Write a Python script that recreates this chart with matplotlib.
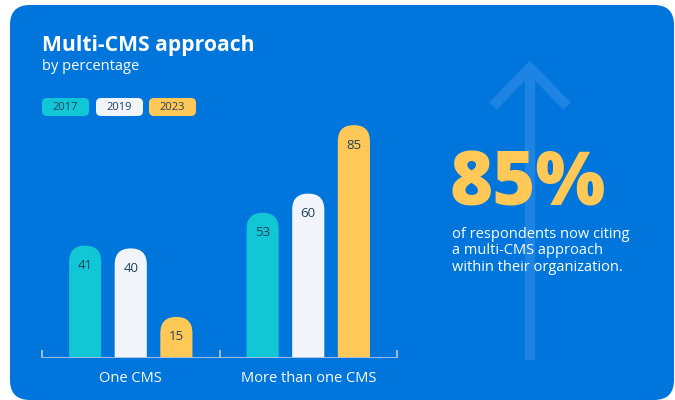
import matplotlib
matplotlib.use("Agg")
import matplotlib.pyplot as plt
import matplotlib.patches as mpatches
import numpy as np

categories = ["One CMS", "More than one CMS"]
years = ["2017", "2019", "2023"]
values = {
    "2017": [41, 53],
    "2019": [40, 60],
    "2023": [15, 85],
}
headline = "85%"
headline_text = "of respondents now citing\na multi-CMS approach\nwithin their organization."

BLUE = "#0075DB"
ARROW = "#1E84E3"
colors = {"2017": "#11C6D5", "2019": "#F1F5F9", "2023": "#FFC857"}
DARK = "#21405A"
AXIS = "#A8C2DF"

plt.rcParams["font.family"] = ["Open Sans", "DejaVu Sans"]

W, H = 675, 400
fig = plt.figure(figsize=(W / 100, H / 100), dpi=100)
fig.patch.set_facecolor("white")

# background card in pixel coordinates
bg = fig.add_axes([0, 0, 1, 1])
bg.set_xlim(0, W)
bg.set_ylim(H, 0)
bg.axis("off")
card = mpatches.FancyBboxPatch((10, 5), 664, 395,
                               boxstyle="round,pad=0,rounding_size=20",
                               facecolor=BLUE, edgecolor="none")
bg.add_patch(card)

# faint arrow
bg.plot([530, 530], [70, 360], color=ARROW, lw=7.5, solid_capstyle="butt")
bg.plot([493, 530, 567], [106, 68, 106], color=ARROW, lw=7.5,
        solid_capstyle="butt", solid_joinstyle="miter")

# titles
bg.text(42, 46, "Multi-CMS approach", color="white", fontsize=15.2,
        fontweight="bold", va="center", ha="left")
bg.text(42, 67, "by percentage", color="white", fontsize=10.5,
        va="center", ha="left")

# legend pills
pill_x = [42, 96, 149]
for px, yr in zip(pill_x, years):
    pill = mpatches.FancyBboxPatch((px, 98), 47, 18,
                                   boxstyle="round,pad=0,rounding_size=5",
                                   facecolor=colors[yr], edgecolor="none")
    bg.add_patch(pill)
    bg.text(px + 23.5, 107.5, yr, color=DARK, fontsize=8,
            ha="center", va="center")

# headline
bg.text(449, 186, headline, color="#FFC857", fontsize=53, fontweight="heavy",
        ha="left", va="center")
bg.text(452, 251, headline_text, color="white", fontsize=10.5,
        ha="left", va="center", linespacing=1.1)

# bar chart axes
left, right, base, top = 42, 397, 358, 84
ax = fig.add_axes([left / W, (H - base) / H, (right - left) / W, (base - top) / H])
ax.set_facecolor("none")
ax.set_xlim(-0.5, 1.5)
ax.set_ylim(0, 100)
for s in ax.spines.values():
    s.set_visible(False)

x = np.arange(len(categories))
offsets = [-0.257, 0, 0.257]
bw = 0.181

p0 = ax.transData.transform((0, 0))
p1 = ax.transData.transform((1, 1))
aspect = (p1[0] - p0[0]) / (p1[1] - p0[1])  # y units per x unit (px ratio)

for off, yr in zip(offsets, years):
    bars = ax.bar(x + off, values[yr], width=bw, color="none")
    for b, v in zip(bars, values[yr]):
        bx = b.get_x()
        r = bw / 2
        ry = r * aspect
        patch = mpatches.FancyBboxPatch((bx, -ry * 2), bw, v + ry * 2,
                                        boxstyle=f"round,pad=0,rounding_size={r}",
                                        mutation_aspect=aspect,
                                        facecolor=colors[yr], edgecolor="none")
        ax.add_patch(patch)
        ax.text(bx + bw / 2, v - 7.3, str(v), color=DARK, fontsize=9.5,
                ha="center", va="center")

ax.axhline(0, color=AXIS, lw=1.3, zorder=5)
ax.set_yticks([])
ax.set_xticks([-0.5, 0.5, 1.5])
ax.set_xticklabels([])
ax.tick_params(axis="x", which="major", direction="in", length=6, width=1.3,
               color=AXIS)
ax.set_xticks(x, minor=True)
ax.set_xticklabels(categories, minor=True)
ax.tick_params(axis="x", which="minor", length=0, pad=9, labelsize=10.5,
               labelcolor="white")

fig.savefig("out.png", dpi=100, facecolor="white")
